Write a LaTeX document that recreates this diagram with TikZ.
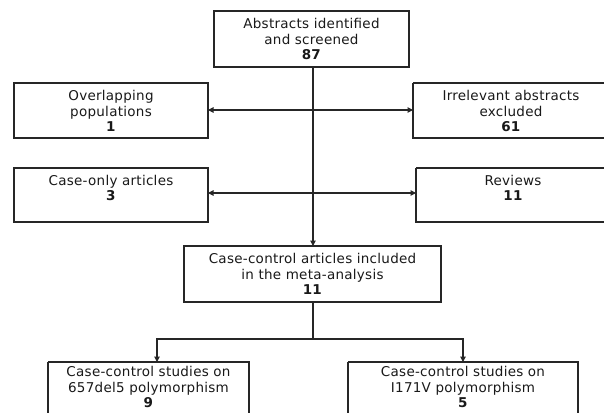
\documentclass[tikz,border=0pt]{standalone}
\usepackage{fontspec}
\setmainfont{DejaVu Sans}[LetterSpace=2]
\usetikzlibrary{arrows.meta}
\begin{document}
\begin{tikzpicture}[x=1pt,y=-1pt,
  box/.style={draw=black!85,line width=1.1pt},
  txt/.style={font=\fontsize{13.5}{15.5}\selectfont,align=center,inner sep=0pt,text=black!90},
  conn/.style={draw=black!85,line width=1.1pt},
  arr/.style={-{Triangle[length=5.5pt,width=5.5pt]}},
  darr/.style={{Triangle[length=5.5pt,width=5.5pt]}-{Triangle[length=5.5pt,width=5.5pt]}}]
\useasboundingbox (0,0) rectangle (604,412);
% boxes
\draw[box] (214,11) rectangle (409,67);
\node[txt] (top) at (311.5,39) {Abstracts identified\\and screened\\\textbf{87}};
\coordinate (topb) at (313,67);
\draw[box] (14,83) rectangle (208,138);
\node[txt] (ov) at (111,111) {Overlapping\\populations\\\textbf{1}};
\coordinate (ovr) at (208,110);
\draw[box] (413,83) -- (606,83) (413,83) -- (413,138) -- (606,138);
\node[txt] (irr) at (511,111) {Irrelevant abstracts\\excluded\\\textbf{61}};
\coordinate (irrl) at (413,110);
\draw[box] (14,168) rectangle (208,222);
\node[txt] (co) at (111,188) {Case-only articles\\\textbf{3}};
\coordinate (cor) at (208,193);
\draw[box] (416,168) -- (606,168) (416,168) -- (416,222) -- (606,222);
\node[txt] (rev) at (513,188) {Reviews\\\textbf{11}};
\coordinate (revl) at (416,193);
\draw[box] (184,246) rectangle (441,302);
\node[txt] (cc) at (312.5,274) {Case-control articles included\\in the meta-analysis\\\textbf{11}};
\coordinate (cct) at (313,246);
\coordinate (ccb) at (313,302);
\draw[box] (48,362) -- (48,414) (48,362) -- (249,362) -- (249,414);
\node[txt] (s1) at (148.5,387) {Case-control studies on\\657del5 polymorphism\\\textbf{9}};
\coordinate (s1t) at (157,362);
\draw[box] (348,362) -- (348,414) (348,362) -- (578,362) -- (578,414);
\node[txt] (s2) at (463,387) {Case-control studies on\\I171V polymorphism\\\textbf{5}};
\coordinate (s2t) at (463,362);
% connectors
\draw[conn,arr] (topb) -- (cct);
\draw[conn,darr] (ovr) -- (irrl);
\draw[conn,darr] (cor) -- (revl);
\coordinate (j) at (313,339);
\draw[conn] (ccb) -- (j);
\draw[conn,arr] (j) -| (s1t);
\draw[conn,arr] (j) -| (s2t);
\end{tikzpicture}
\end{document}
